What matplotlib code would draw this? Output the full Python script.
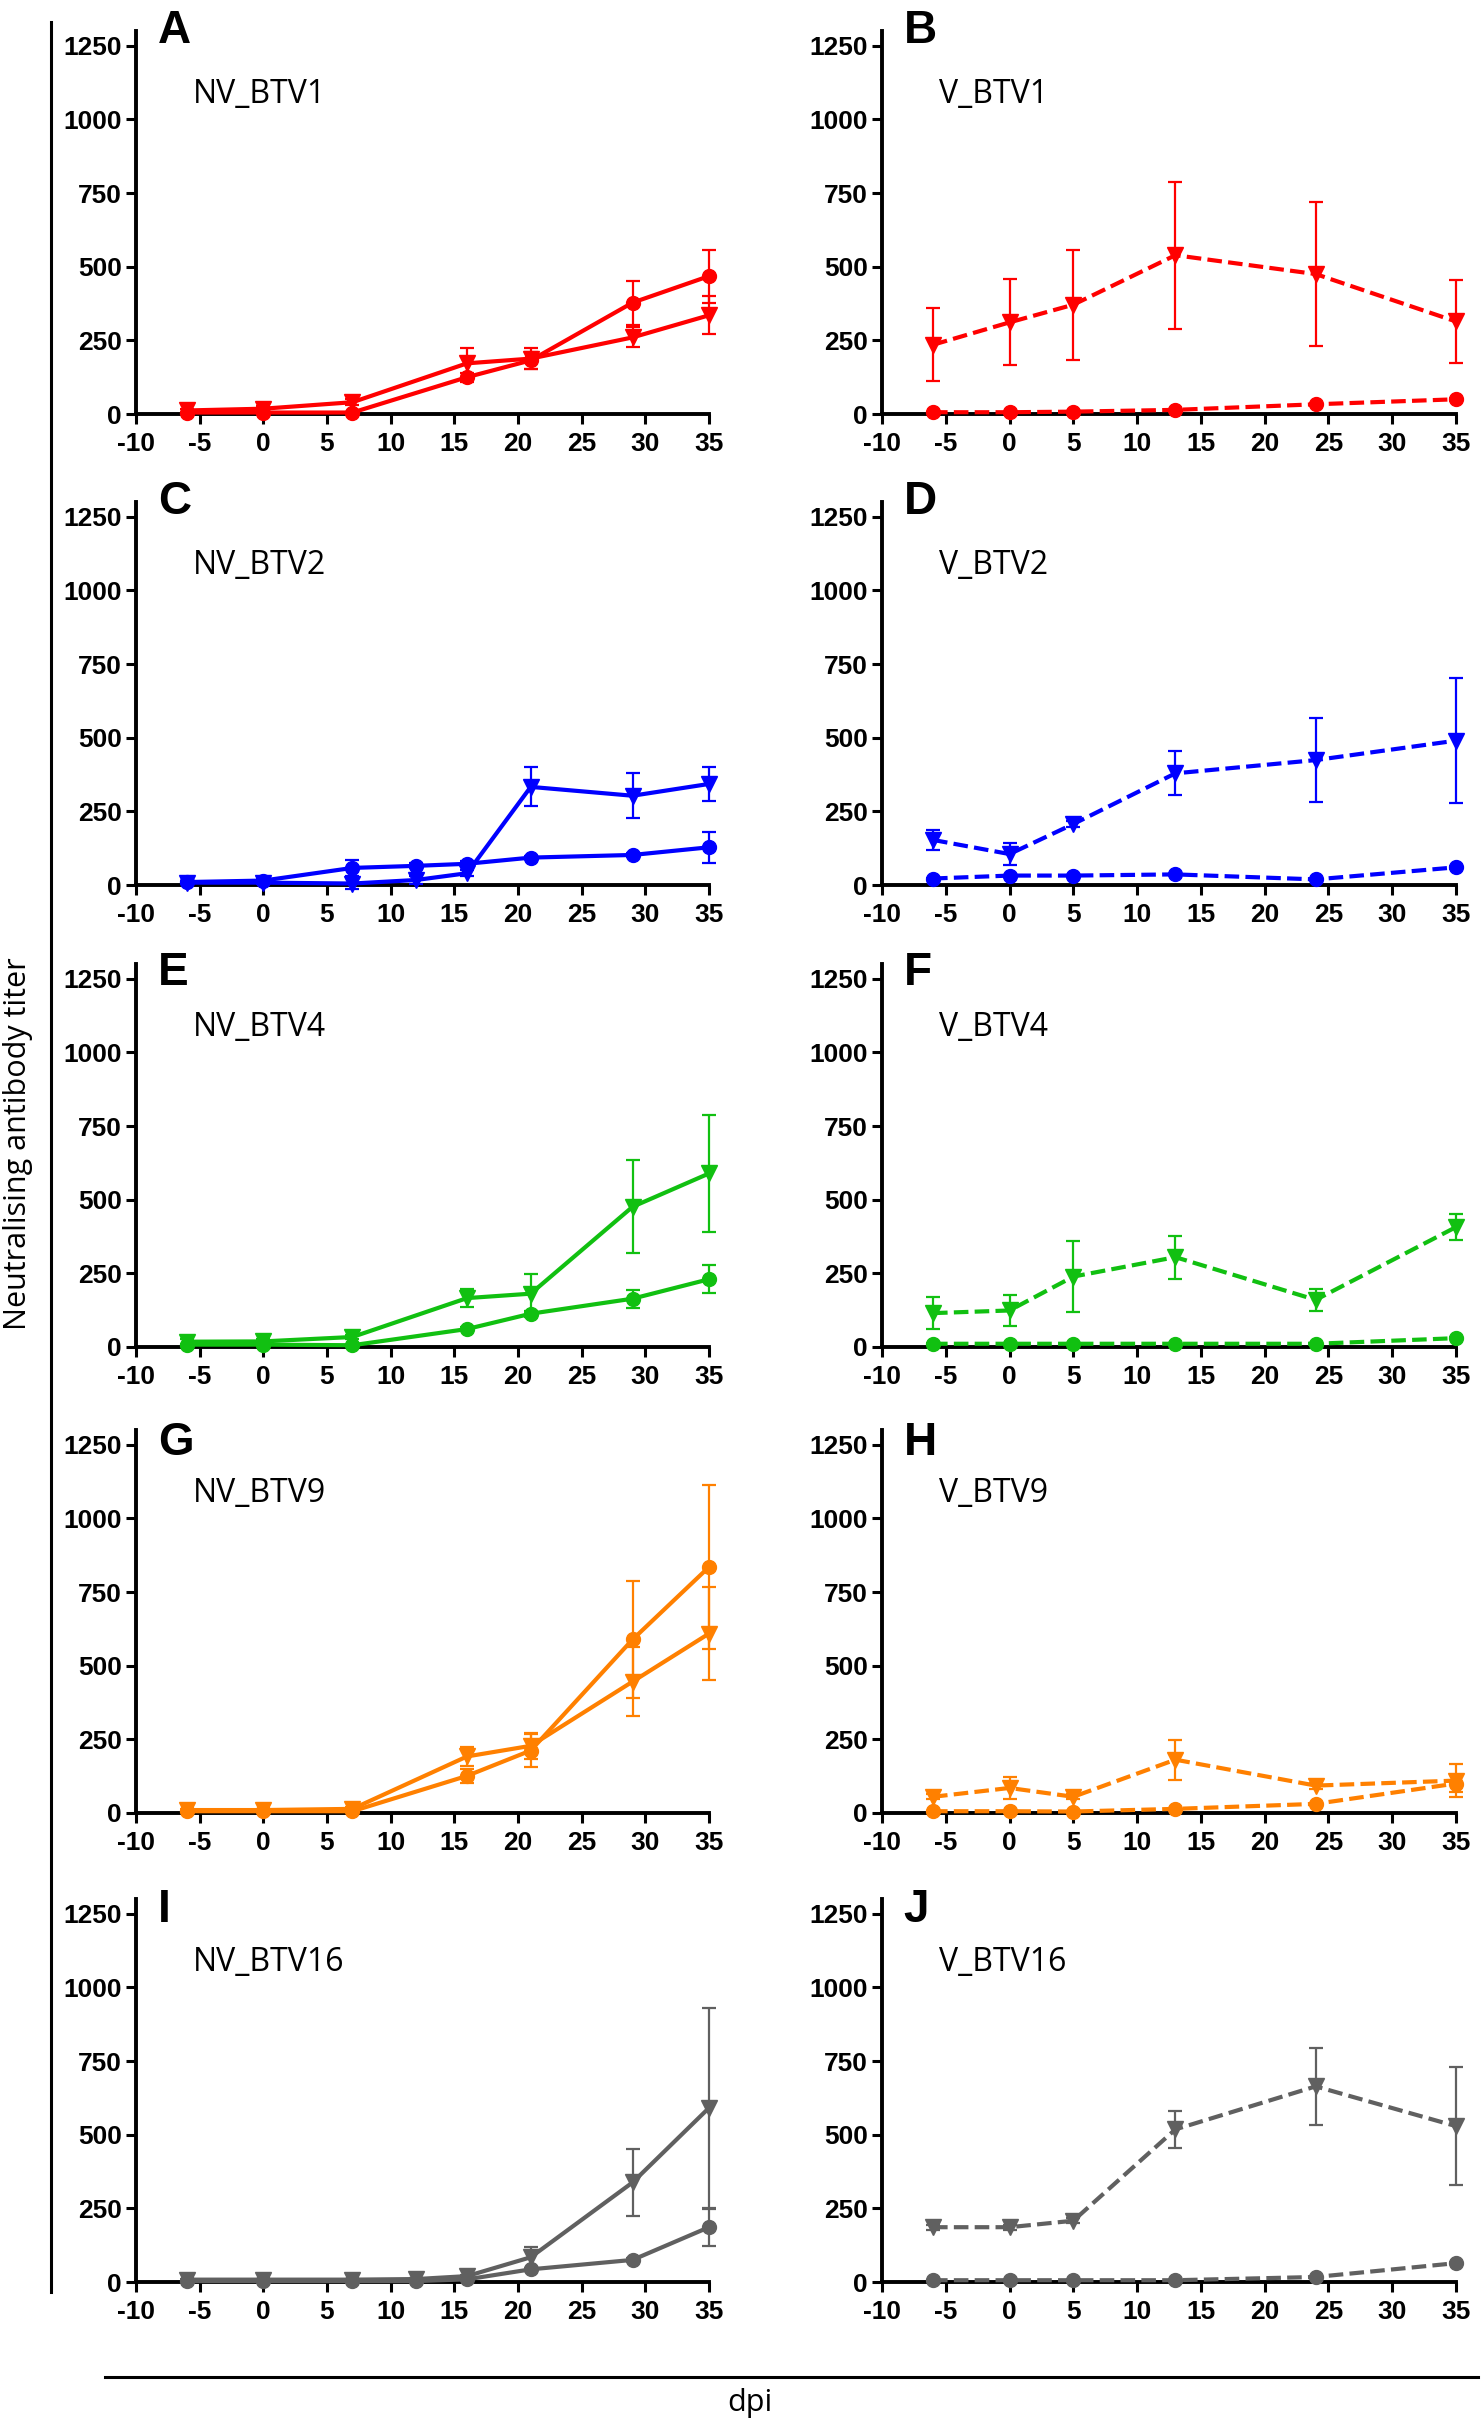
import matplotlib
matplotlib.use("Agg")
import matplotlib.pyplot as plt
from matplotlib.lines import Line2D

plt.rcParams['axes.unicode_minus'] = False  # ticks use a plain hyphen

# sampling days
nv_days = [-6, 0, 7, 16, 21, 29, 35]
nv_days_b = [-6, 0, 7, 12, 16, 21, 29, 35]
v_days = [-6, 0, 5, 13, 24, 35]

# A  NV_BTV1
a_circ = [5, 5, 5, 125, 182, 378, 468]
a_circ_err = [3, 3, 3, 15, 30, 75, 90]
a_tri = [12, 18, 40, 172, 188, 260, 335]
a_tri_err = [5, 8, 10, 52, 35, 34, 65]
# B  V_BTV1
b_circ = [6, 6, 8, 14, 33, 50]
b_circ_err = [2, 2, 2, 3, 5, 6]
b_tri = [235, 311, 371, 539, 475, 314]
b_tri_err = [124, 146, 187, 250, 245, 140]
# C  NV_BTV2
c_circ = [10, 15, 58, 65, 72, 93, 102, 128]
c_circ_err = [5, 5, 26, 8, 8, 6, 8, 53]
c_tri = [8, 8, 5, 17, 40, 333, 303, 343]
c_tri_err = [5, 5, 20, 15, 10, 66, 76, 58]
# D  V_BTV2
d_circ = [22, 32, 32, 36, 19, 60]
d_circ_err = [3, 3, 3, 3, 3, 5]
d_tri = [153, 105, 207, 379, 424, 490]
d_tri_err = [35, 37, 10, 75, 143, 211]
# E  NV_BTV4
e_circ = [8, 8, 6, 61, 113, 164, 230]
e_circ_err = [3, 3, 3, 8, 10, 31, 47]
e_tri = [18, 19, 34, 166, 181, 476, 589]
e_tri_err = [8, 8, 8, 30, 67, 158, 200]
# F  V_BTV4
f_circ = [11, 11, 11, 11, 11, 30]
f_circ_err = [2, 2, 2, 2, 2, 4]
f_tri = [115, 124, 239, 305, 160, 407]
f_tri_err = [55, 54, 121, 73, 38, 45]
# G  NV_BTV9
g_circ = [6, 6, 6, 126, 212, 589, 835]
g_circ_err = [2, 2, 2, 25, 55, 197, 278]
g_tri = [10, 10, 14, 192, 228, 446, 609]
g_tri_err = [5, 5, 5, 31, 45, 118, 157]
# H  V_BTV9
h_circ = [6, 6, 5, 14, 31, 100]
h_circ_err = [2, 2, 2, 3, 4, 30]
h_tri = [55, 85, 55, 181, 93, 110]
h_tri_err = [8, 36, 8, 68, 10, 55]
# I  NV_BTV16
i_circ = [3, 3, 3, 3, 9, 43, 75, 186]
i_circ_err = [1, 1, 1, 1, 3, 5, 8, 63]
i_tri = [8, 8, 8, 10, 20, 84, 338, 591]
i_tri_err = [3, 3, 3, 3, 5, 35, 113, 340]
# J  V_BTV16
j_circ = [6, 6, 6, 6, 17, 64]
j_circ_err = [1, 1, 1, 1, 2, 4]
j_tri = [186, 186, 208, 518, 664, 529]
j_tri_err = [8, 8, 8, 63, 131, 200]

panels = [
    ("A", "NV_BTV1", nv_days, a_circ, a_circ_err, a_tri, a_tri_err, "#ff0000", "-"),
    ("B", "V_BTV1", v_days, b_circ, b_circ_err, b_tri, b_tri_err, "#ff0000", "--"),
    ("C", "NV_BTV2", nv_days_b, c_circ, c_circ_err, c_tri, c_tri_err, "#0000ff", "-"),
    ("D", "V_BTV2", v_days, d_circ, d_circ_err, d_tri, d_tri_err, "#0000ff", "--"),
    ("E", "NV_BTV4", nv_days, e_circ, e_circ_err, e_tri, e_tri_err, "#11c011", "-"),
    ("F", "V_BTV4", v_days, f_circ, f_circ_err, f_tri, f_tri_err, "#11c011", "--"),
    ("G", "NV_BTV9", nv_days, g_circ, g_circ_err, g_tri, g_tri_err, "#ff8000", "-"),
    ("H", "V_BTV9", v_days, h_circ, h_circ_err, h_tri, h_tri_err, "#ff8000", "--"),
    ("I", "NV_BTV16", nv_days_b, i_circ, i_circ_err, i_tri, i_tri_err, "#606060", "-"),
    ("J", "V_BTV16", v_days, j_circ, j_circ_err, j_tri, j_tri_err, "#606060", "--"),
]

W, H = 1481, 2422
fig = plt.figure(figsize=(W / 100, H / 100), dpi=100)

col_x = [136, 882]            # pixel x of y-axis
col_w = [573, 574]
row_y = [414, 885, 1347, 1813, 2282]   # pixel y of x-axis
letter_y = [1258, 1260, 1228, 1214, 1222]
ax_h = 383

tick_font = dict(family="Liberation Sans", weight="bold", size=19)

for k, (letter, title, days, circ, circ_err, tri, tri_err, color, ls) in enumerate(panels):
    r, c = divmod(k, 2)
    ax = fig.add_axes([col_x[c] / W, 1 - row_y[r] / H, col_w[c] / W, ax_h / H])
    ax.set_xlim(-10, 35)
    ax.set_ylim(0, 1300)
    for s in ("top", "right"):
        ax.spines[s].set_visible(False)
    for s in ("left", "bottom"):
        ax.spines[s].set_linewidth(2.8)
    ax.set_xticks(range(-10, 36, 5))
    ax.set_yticks([0, 250, 500, 750, 1000, 1250])
    ax.tick_params(width=2.2, length=7, direction="out")
    ax.tick_params(axis="x", pad=6)
    ax.tick_params(axis="y", pad=3)
    for lab in ax.get_xticklabels() + ax.get_yticklabels():
        lab.set_fontfamily(tick_font["family"])
        lab.set_fontweight(tick_font["weight"])
        lab.set_fontsize(tick_font["size"])

    dash = (3.5, 1.5) if ls == "--" else None
    for y, e, m, ms in ((tri, tri_err, "v", 11), (circ, circ_err, "o", 10)):
        eb = ax.errorbar(days, y, yerr=e, color=color, lw=3, marker=m, ms=ms,
                         elinewidth=1.6, capsize=5, capthick=1.6, clip_on=False, zorder=3)
        line = eb[0]
        if dash:
            line.set_dashes(dash)
        for art in eb[1] + eb[2]:
            art.set_clip_on(False)

    ax.text(-5.5, 1055, title, family="Open Sans", fontsize=23, va="baseline")
    ax.text(-8.3, letter_y[r], letter, family="Liberation Sans", weight="bold",
            fontsize=33, va="baseline", clip_on=False)

# frame lines and shared labels
fig.add_artist(Line2D([51 / W, 51 / W], [1 - 22 / H, 1 - 2292 / H], color="black", lw=2.2))
fig.add_artist(Line2D([105 / W, 1478 / W], [1 - 2377 / H, 1 - 2377 / H], color="black", lw=2.2))
fig.text(18 / W, 1 - 1144 / H, "Neutralising antibody titer", family="Open Sans",
         fontsize=22, rotation=90, ha="center", va="center")
fig.text(750 / W, 1 - 2403 / H, "dpi", family="Open Sans", fontsize=22, ha="center", va="center")

fig.savefig("out.png", dpi=100)
